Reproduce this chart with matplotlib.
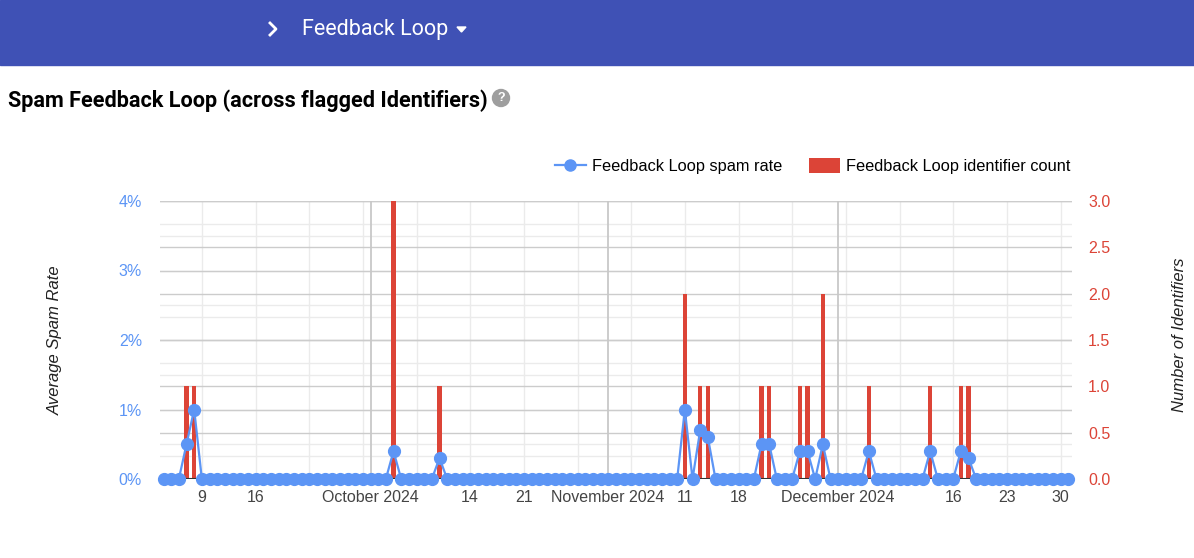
import pandas as pd
import matplotlib
matplotlib.use('Agg')
import matplotlib.pyplot as plt
import matplotlib.dates as mdates
from matplotlib.lines import Line2D
from matplotlib.patches import Patch, Rectangle, Ellipse, Polygon
from matplotlib.ticker import MultipleLocator, FixedLocator
from matplotlib.transforms import blended_transform_factory

# --- data ---
start_date = '2024-09-04'
end_date = '2024-12-31'
flagged_days = ['2024-09-07', '2024-09-08', '2024-10-04', '2024-10-10',
                '2024-11-11', '2024-11-13', '2024-11-14', '2024-11-21',
                '2024-11-22', '2024-11-26', '2024-11-27', '2024-11-29',
                '2024-12-05', '2024-12-13', '2024-12-17', '2024-12-18']
spam_rate = [0.5, 1.0, 0.4, 0.3,
             1.0, 0.7, 0.6, 0.5,
             0.5, 0.4, 0.4, 0.5,
             0.4, 0.4, 0.4, 0.3]          # percent
identifier_count = [1, 1, 3, 1,
                    2, 1, 1, 1,
                    1, 1, 1, 2,
                    1, 1, 1, 1]

tick_dates = ['2024-09-09', '2024-09-16', '2024-10-01', '2024-10-14', '2024-10-21',
              '2024-11-01', '2024-11-11', '2024-11-18', '2024-12-01', '2024-12-16',
              '2024-12-23', '2024-12-30']
tick_labels = ['9', '16', 'October 2024', '14', '21', 'November 2024', '11', '18',
               'December 2024', '16', '23', '30']
month_starts = ['2024-10-01', '2024-11-01', '2024-12-01']

days = pd.date_range(start_date, end_date, freq='D')
rate = pd.Series(0.0, index=days)
rate[pd.to_datetime(flagged_days)] = spam_rate
counts = pd.Series(identifier_count, index=pd.to_datetime(flagged_days))

BLUE = '#5c95f5'
RED = '#dc4437'
FONT = 'Liberation Sans'
W, H = 1194, 558

plt.rcParams['font.family'] = [FONT, 'DejaVu Sans']

fig = plt.figure(figsize=(W / 100, H / 100), dpi=100)

# header bar
fig.patches.append(Rectangle((0, 1 - 65 / H), 1, 65 / H, transform=fig.transFigure,
                             color='#3f51b5', zorder=0))
fig.add_artist(Line2D([270 / W, 276 / W, 270 / W], [1 - 23 / H, 1 - 29 / H, 1 - 35 / H],
                      color='white', lw=2, transform=fig.transFigure))
fig.text(302 / W, 1 - 29 / H, 'Feedback Loop', color='white', fontsize=15.5,
         family='Roboto', va='center', ha='left')
fig.patches.append(Polygon([[457 / W, 1 - 27 / H], [466 / W, 1 - 27 / H], [461.5 / W, 1 - 32 / H]],
                           closed=True, transform=fig.transFigure, color='white'))

# title + help icon
fig.text(8 / W, 1 - 101 / H, 'Spam Feedback Loop (across flagged Identifiers)',
         fontsize=15.6, weight='bold', family='Roboto', va='center', ha='left')
fig.patches.append(Ellipse((501 / W, 1 - 98 / H), 17 / W, 17 / H, transform=fig.transFigure,
                           color='#9e9e9e'))
fig.text(501 / W, 1 - 98 / H, '?', color='white', fontsize=9, weight='bold',
         ha='center', va='center')

# axes: host = identifier count (right), twin = spam rate (left)
ax = fig.add_axes([160 / W, 79 / H, 912 / W, 278 / H])
ax2 = ax.twinx()

ax.bar(counts.index, counts.values, width=0.55, color=RED, zorder=3)
ax.set_ylim(0, 3.0)
ax.set_xlim(pd.Timestamp(start_date) - pd.Timedelta(hours=11),
            pd.Timestamp(end_date) + pd.Timedelta(hours=12))

ax2.plot(rate.index, rate.values, color=BLUE, lw=1.6, marker='o', markersize=8.5,
         zorder=5, clip_on=False)
ax2.set_ylim(0, 4.0)

# ticks / labels placement
ax.yaxis.tick_right()
ax2.yaxis.tick_left()
ax.yaxis.set_major_locator(MultipleLocator(0.5))
ax.yaxis.set_major_formatter(matplotlib.ticker.FormatStrFormatter('%.1f'))
ax2.yaxis.set_major_locator(MultipleLocator(1))
ax2.yaxis.set_major_formatter(matplotlib.ticker.FuncFormatter(lambda v, p: f'{v:.0f}%'))
ax.tick_params(axis='y', length=0, pad=11.5, labelsize=11.5, labelcolor=RED)
ax2.tick_params(axis='y', length=0, pad=13, labelsize=11.5, labelcolor=BLUE)

ax.xaxis.set_major_locator(FixedLocator(mdates.date2num(pd.to_datetime(tick_dates))))
ax.set_xticklabels(tick_labels)
ax.tick_params(axis='x', length=0, pad=8, labelsize=11.5, labelcolor='#444444')

for a in (ax, ax2):
    for s in a.spines.values():
        s.set_visible(False)

# gridlines
tr_rate = blended_transform_factory(ax.transAxes, ax2.transData)
for v in [0.5, 1.5, 2.5, 3.5]:
    ax.plot([0, 1], [v, v], transform=tr_rate, color='#ebebeb', lw=1, zorder=0)
for v in [1, 2, 3, 4]:
    ax.plot([0, 1], [v, v], transform=tr_rate, color='#cccccc', lw=1, zorder=1)
for v in [0.25, 0.75, 1.25, 1.75, 2.25, 2.75]:
    ax.axhline(v, color='#ebebeb', lw=1, zorder=0)
for v in [0.5, 1.0, 1.5, 2.0, 2.5, 3.0]:
    ax.axhline(v, color='#cccccc', lw=1, zorder=1)
for d in pd.date_range(start_date, end_date, freq='W-MON'):
    ax.axvline(d, color='#ebebeb', lw=1, zorder=0)
for d in pd.to_datetime(month_starts):
    ax.axvline(d, color='#c8c8c8', lw=1.3, zorder=1)
ax.axhline(0, color='#333333', lw=1.5, zorder=4)

# axis titles
fig.text(55 / W, 1 - 340 / H, 'Average Spam Rate', rotation=90, style='italic',
         fontsize=12, ha='center', va='center', color='#222222')
fig.text(1180 / W, 1 - 335 / H, 'Number of Identifiers', rotation=90, style='italic',
         fontsize=12, ha='center', va='center', color='#222222')

# legend
handles = [Line2D([], [], color=BLUE, lw=1.6, marker='o', markersize=8),
           Patch(facecolor=RED)]
labels = ['Feedback Loop spam rate', 'Feedback Loop identifier count']
fig.legend(handles, labels, loc='center right', bbox_to_anchor=(1079 / W, 1 - 166 / H),
           ncol=2, frameon=False, fontsize=11.8, handlelength=1.9, handleheight=1.0,
           handletextpad=0.4, columnspacing=1.6, borderpad=0)

fig.savefig('out.png', dpi=100)
